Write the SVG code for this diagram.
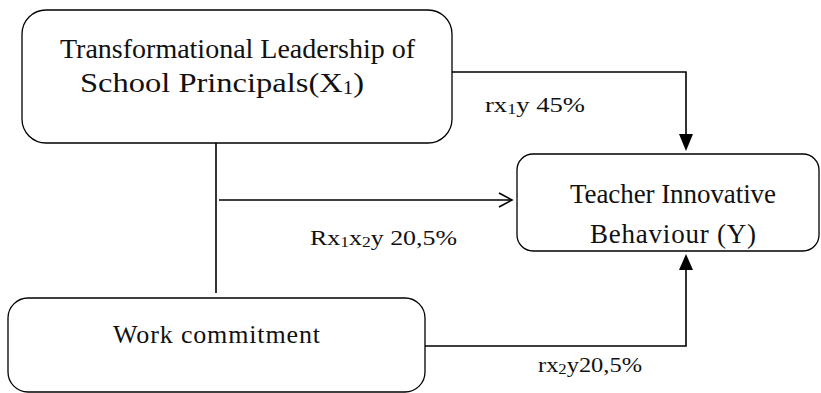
<svg xmlns="http://www.w3.org/2000/svg" width="821" height="393" viewBox="0 0 821 393">
<style>
.box{fill:#fff;stroke:#000;stroke-width:1.3}
.t{font-family:'Liberation Serif','DejaVu Serif','Times New Roman',serif;fill:#111}
.c{fill:none;stroke:#000;stroke-width:1.6}
</style>
<g id="x1">
<rect class="box" x="22" y="10" width="430" height="133" rx="24"/>
<text class="t" font-size="28" x="60" y="58" textLength="355" lengthAdjust="spacing">Transformational Leadership of</text>
<text class="t" font-size="28" x="80" y="92" textLength="284" lengthAdjust="spacingAndGlyphs">School Principals(X<tspan font-size="18" dy="2">1</tspan><tspan dy="-2">)</tspan></text>
</g>
<g id="y">
<rect class="box" x="517" y="154" width="302" height="97" rx="16"/>
<text class="t" font-size="27" x="570" y="203" textLength="206" lengthAdjust="spacing">Teacher Innovative</text>
<text class="t" font-size="27" x="590" y="243" textLength="166" lengthAdjust="spacing">Behaviour (Y)</text>
</g>
<g id="x2">
<rect class="box" x="8" y="298" width="417" height="94" rx="20"/>
<text class="t" font-size="26" x="113" y="343" textLength="207" lengthAdjust="spacing">Work commitment</text>
</g>
<g id="connectors">
<path class="c" d="M452,72 H686 V134"/>
<path d="M679,134 L693,134 L686,151 Z" fill="#000"/>
<path class="c" d="M216,143 V293"/>
<path class="c" d="M219,200 H511"/>
<path class="c" d="M499,193 L512,200 L499,207"/>
<path class="c" d="M425,346 H686 V270"/>
<path d="M679,270 L693,270 L686,254 Z" fill="#000"/>
</g>
<g id="labels">
<text class="t" font-size="22" x="485" y="112" textLength="100" lengthAdjust="spacingAndGlyphs">rx<tspan font-size="15" dy="2">1</tspan><tspan dy="-2">y 45%</tspan></text>
<text class="t" font-size="22" x="310" y="245" textLength="147" lengthAdjust="spacingAndGlyphs">Rx<tspan font-size="15" dy="2">1</tspan><tspan dy="-2">x</tspan><tspan font-size="15" dy="2">2</tspan><tspan dy="-2">y 20,5%</tspan></text>
<text class="t" font-size="22" x="538" y="372" textLength="104" lengthAdjust="spacingAndGlyphs">rx<tspan font-size="15" dy="2">2</tspan><tspan dy="-2">y20,5%</tspan></text>
</g>
</svg>
